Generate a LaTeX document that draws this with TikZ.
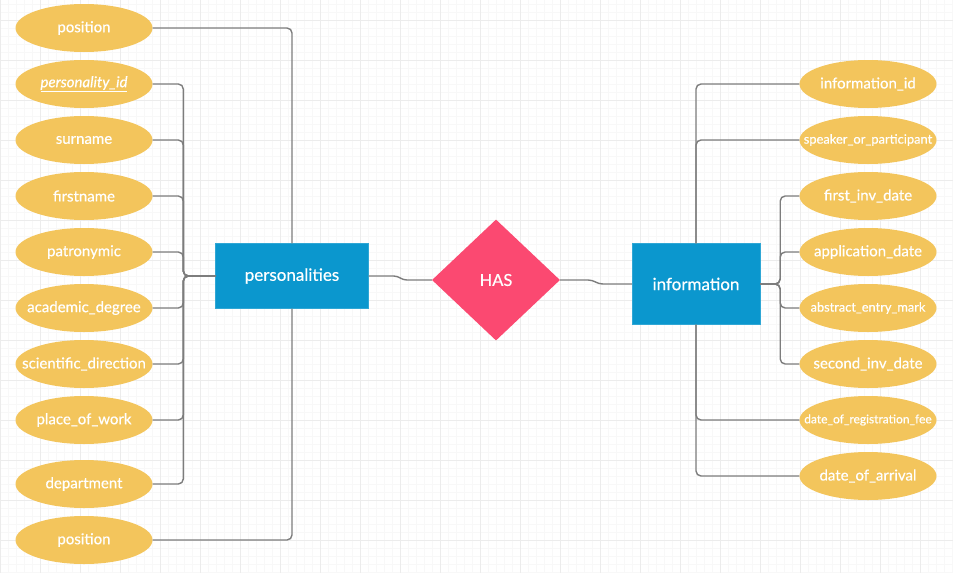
\documentclass[tikz,border=0pt]{standalone}
\usepackage{fontspec}
\setmainfont{Lato}
\newfontfamily\lt{Lato}[FakeBold=0.5]
\usetikzlibrary{shapes.geometric}
\definecolor{attrc}{RGB}{243,197,92}
\definecolor{entc}{RGB}{11,151,206}
\definecolor{relc}{RGB}{251,73,113}
\definecolor{linec}{RGB}{125,125,125}
\definecolor{gmajor}{RGB}{236,236,236}
\definecolor{gminor}{RGB}{248,248,248}
\newcommand\tx[1]{\makebox[0pt]{\raisebox{-2pt}{#1}}}
\begin{document}
\begin{tikzpicture}[x=1pt,y=-1pt,
  attr/.style={ellipse, fill=attrc, inner sep=0pt, minimum width=137pt, minimum height=48pt, text=white, font=\lt\fontsize{15}{17}\selectfont},
  ent/.style={rectangle, fill=entc, draw=entc!85!white, inner sep=0pt, text=white, font=\lt\fontsize{17}{20}\selectfont},
  rel/.style={diamond, fill=relc, inner sep=0pt, aspect=1.06, minimum width=128pt, minimum height=121pt, text=white, font=\lt\fontsize{16.5}{19}\selectfont},
  conn/.style={draw=linec, line width=1.4pt, rounded corners=5pt}]
\useasboundingbox (0,0) rectangle (953,573);
\fill[white] (0,0) rectangle (953,573);
% grid
\foreach \x in {0,8,...,952} \draw[gminor, line width=0.8pt] (\x,0) -- (\x,573);
\foreach \y in {4,12,...,572} \draw[gminor, line width=0.8pt] (0,\y) -- (953,\y);
\foreach \x in {0,40,...,952} \draw[gmajor, line width=1pt] (\x,0) -- (\x,573);
\foreach \y in {20,60,...,572} \draw[gmajor, line width=1pt] (0,\y) -- (953,\y);
% entities
\node[ent, minimum width=153pt, minimum height=65pt] (pers) at (292,276) {\tx{personalities}};
\node[ent, minimum width=128pt, minimum height=81pt] (info) at (696,284) {\tx{information}};
\node[rel] (has) at (496,280) {\tx{HAS}};
% left attributes
\node[attr] (posA) at (84,28) {\tx{position}};
\node[attr] (pid) at (84,84) {\tx{\textit{\underline{personality\_id}}}};
\node[attr] (sur) at (84,140) {\tx{surname}};
\node[attr] (first) at (84,196) {\tx{firstname}};
\node[attr] (patr) at (84,252) {\tx{patronymic}};
\node[attr] (acad) at (84,308) {\tx{academic\_degree}};
\node[attr] (sci) at (84,364) {\tx{scientific\_direction}};
\node[attr] (place) at (84,420) {\tx{place\_of\_work}};
\node[attr] (dept) at (84,484) {\tx{department}};
\node[attr] (posB) at (84,540) {\tx{position}};
% right attributes
\node[attr] (iid) at (868,84) {\tx{information\_id}};
\node[attr, font=\lt\fontsize{12.9}{14}\selectfont] (spk) at (868,140) {\tx{speaker\_or\_participant}};
\node[attr] (finv) at (868,196) {\tx{first\_inv\_date}};
\node[attr] (appl) at (868,252) {\tx{application\_date}};
\node[attr, font=\lt\fontsize{12.8}{14}\selectfont] (abst) at (868,308) {\tx{abstract\_entry\_mark}};
\node[attr] (sinv) at (868,364) {\tx{second\_inv\_date}};
\node[attr, font=\lt\fontsize{12}{13}\selectfont] (dreg) at (868,420) {\tx{date\_of\_registration\_fee}};
\node[attr] (darr) at (868,476) {\tx{date\_of\_arrival}};
% left connectors
\foreach \a in {pid,sur,first,patr,acad,sci,place,dept}
  \draw[conn] (\a.east) -| ([xshift=-32pt]pers.west) -- (pers.west);
\draw[conn] (posA.east) -| (pers.north);
\draw[conn] (posB.east) -| (pers.south);
% right connectors
\draw[conn] (info.north) |- (iid.west);
\draw[conn] (info.north) |- (spk.west);
\foreach \a in {finv,appl,abst,sinv}
  \draw[conn] (info.east) -- ([xshift=20pt]info.east) |- (\a.west);
\draw[conn] (info.south) |- (dreg.west);
\draw[conn] (info.south) |- (darr.west);
% relationship connectors
\draw[draw=linec, line width=1.4pt] (pers.east) -- ([xshift=25pt]pers.east) to[out=0,in=180] ([xshift=-25pt]has.west) -- (has.west);
\draw[draw=linec, line width=1.4pt] (has.east) -- ([xshift=28pt]has.east) to[out=0,in=180] ([xshift=-29pt]info.west) -- (info.west);
\end{tikzpicture}
\end{document}
